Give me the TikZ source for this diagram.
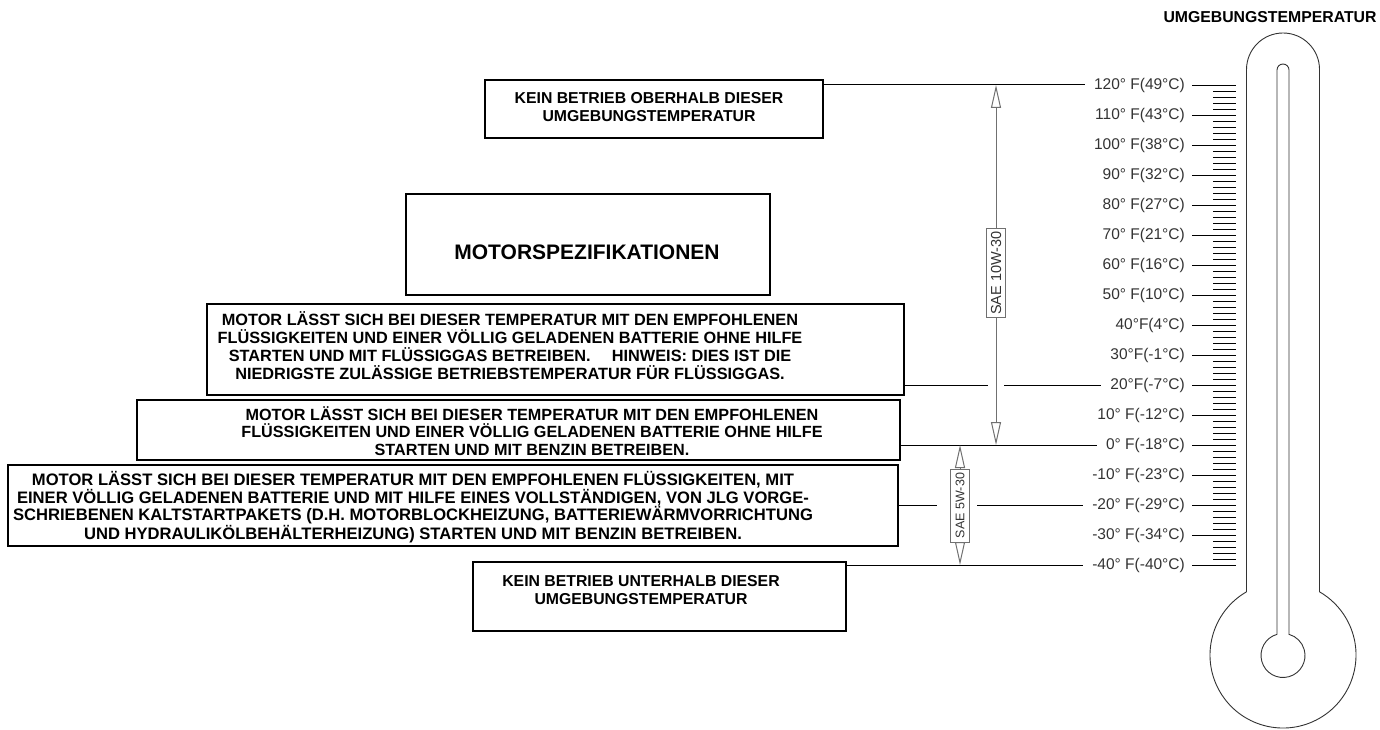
\documentclass[tikz,border=0pt]{standalone}
\usepackage{fontspec}
\setmainfont{Liberation Sans}
\usetikzlibrary{arrows.meta}
\definecolor{tgray}{HTML}{333333}
\definecolor{agray}{HTML}{707070}
\begin{document}
\begin{tikzpicture}[x=1pt,y=1pt,
  frame/.style={draw=black, line width=2pt, inner sep=0pt},
  btxt/.style={font=\fontsize{15.8}{18}\selectfont\bfseries, align=center, inner sep=0pt},
  tlab/.style={anchor=east, inner sep=0pt, font=\fontsize{15.5}{18}\selectfont, text=tgray},
  tick/.style={draw=black, line width=0.9pt},
  conn/.style={draw=black, line width=1pt},
  dimarrow/.style={draw=agray, line width=1pt, arrows={Triangle[open,length=23pt,width=10pt]-Triangle[open,length=23pt,width=10pt]}},
  saelab/.style={draw=agray, fill=white, rotate=90, line width=0.8pt, text=tgray},
  thermo/.style={draw=tgray, line width=0.9pt}]
\useasboundingbox (0,0) rectangle (1380,729);

% boxes
\node[frame, minimum width=338pt, minimum height=58pt] (box1) at (654,620) {};
\node[btxt] (box1t) at (649,622) {KEIN BETRIEB OBERHALB DIESER\\UMGEBUNGSTEMPERATUR};

\node[frame, minimum width=364pt, minimum height=101pt] (spec) at (588,484.5) {};
\node[btxt, font=\fontsize{21}{24}\selectfont\bfseries] (spect) at (587,477) {MOTORSPEZIFIKATIONEN};

\node[frame, minimum width=697pt, minimum height=91pt] (lpg) at (555.5,379.5) {};
\node[btxt, font=\fontsize{16.3}{18}\selectfont\bfseries] (lpgt) at (510,383) {MOTOR LÄSST SICH BEI DIESER TEMPERATUR MIT DEN EMPFOHLENEN\\
FLÜSSIGKEITEN UND EINER VÖLLIG GELADENEN BATTERIE OHNE HILFE\\
STARTEN UND MIT FLÜSSIGGAS BETREIBEN.\hspace{1.3em}HINWEIS: DIES IST DIE\\
NIEDRIGSTE ZULÄSSIGE BETRIEBSTEMPERATUR FÜR FLÜSSIGGAS.};

\node[frame, minimum width=763pt, minimum height=60pt] (benz) at (518.5,299) {};
\node[btxt, font=\fontsize{16.2}{17.6}\selectfont\bfseries] (benzt) at (532,298) {MOTOR LÄSST SICH BEI DIESER TEMPERATUR MIT DEN EMPFOHLENEN\\
FLÜSSIGKEITEN UND EINER VÖLLIG GELADENEN BATTERIE OHNE HILFE\\
STARTEN UND MIT BENZIN BETREIBEN.};

\node[frame, minimum width=890pt, minimum height=81pt] (cold) at (453,223.5) {};
\node[btxt, font=\fontsize{16.6}{17.4}\selectfont\bfseries] (coldt) at (413,222) {MOTOR LÄSST SICH BEI DIESER TEMPERATUR MIT DEN EMPFOHLENEN FLÜSSIGKEITEN, MIT\\
EINER VÖLLIG GELADENEN BATTERIE UND MIT HILFE EINES VOLLSTÄNDIGEN, VON JLG VORGE-\\
SCHRIEBENEN KALTSTARTPAKETS (D.H. MOTORBLOCKHEIZUNG, BATTERIEWÄRMVORRICHTUNG\\
UND HYDRAULIKÖLBEHÄLTERHEIZUNG) STARTEN UND MIT BENZIN BETREIBEN.};

\node[frame, minimum width=373pt, minimum height=69pt] (below) at (659.5,132.5) {};
\node[btxt] (belowt) at (641,139) {KEIN BETRIEB UNTERHALB DIESER\\UMGEBUNGSTEMPERATUR};

\node[btxt] (hdr) at (1270,712) {UMGEBUNGSTEMPERATUR};

% scale labels and major ticks
\foreach \k/\lab in {0/{120° F(49°C)},1/{110° F(43°C)},2/{100° F(38°C)},3/{90° F(32°C)},
  4/{80° F(27°C)},5/{70° F(21°C)},6/{60° F(16°C)},7/{50° F(10°C)},8/{40°F(4°C)},
  9/{30°F(-1°C)},10/{20°F(-7°C)},11/{10° F(-12°C)},12/{0° F(-18°C)},13/{-10° F(-23°C)},
  14/{-20° F(-29°C)},15/{-30° F(-34°C)},16/{-40° F(-40°C)}}{
  \pgfmathsetmacro\yy{644-30*\k}
  \node[tlab] (t\k) at (1185,\yy) {\lab};
  \draw[tick] ([xshift=7pt]t\k.east) -- (1236,\yy);
}
% minor ticks
\foreach \j in {0,...,80}{
  \draw[tick] (1213,{644-6*\j}) -- (1236,{644-6*\j});
}

% thermometer
\draw[thermo] (1319.5,137.2) -- (1319.5,659.5) arc[start angle=0,end angle=180,radius=36.5pt]
  -- (1246.5,137.2) arc[start angle=120,end angle=420,radius=73pt] -- cycle;
\draw[thermo] (1289,94.67) -- (1289,659) arc[start angle=0,end angle=180,radius=6pt]
  -- (1277,94.67) arc[start angle=105.83,end angle=434.17,radius=22pt] -- cycle;

% helper coordinates
\coordinate (s1) at (996,0);
\coordinate (s2) at (960,0);
\coordinate (g1l) at (988,0);
\coordinate (g1r) at (1004,0);
\coordinate (g2l) at (937,0);
\coordinate (g2r) at (977,0);

% connectors from boxes to scale
\draw[conn] (box1.east |- t0.west) -- ([xshift=-9pt]t0.west);
\draw[conn] (lpg.east |- t10.west) -- (g1l |- t10.west);
\draw[conn] (g1r |- t10.west) -- ([xshift=-9pt]t10.west);
\draw[conn] (benz.east |- t12.west) -- ([xshift=-9pt]t12.west);
\draw[conn] (cold.east |- t14.west) -- (g2l |- t14.west);
\draw[conn] (g2r |- t14.west) -- ([xshift=-9pt]t14.west);
\draw[conn] (below.east |- t16.west) -- ([xshift=-9pt]t16.west);

% dimension arrows
\draw[dimarrow] (s1 |- t0.west) -- (s1 |- t12.west);
\node[saelab, font=\fontsize{14.5}{16}\selectfont, inner xsep=3pt, inner ysep=4pt] (sae1) at (996,456) {SAE 10W-30};
\draw[dimarrow] (s2 |- t12.west) -- (s2 |- t16.west);
\node[saelab, font=\fontsize{12.5}{14}\selectfont, inner xsep=4pt, inner ysep=5pt] (sae2) at (960,223.5) {SAE 5W-30};
\end{tikzpicture}
\end{document}
